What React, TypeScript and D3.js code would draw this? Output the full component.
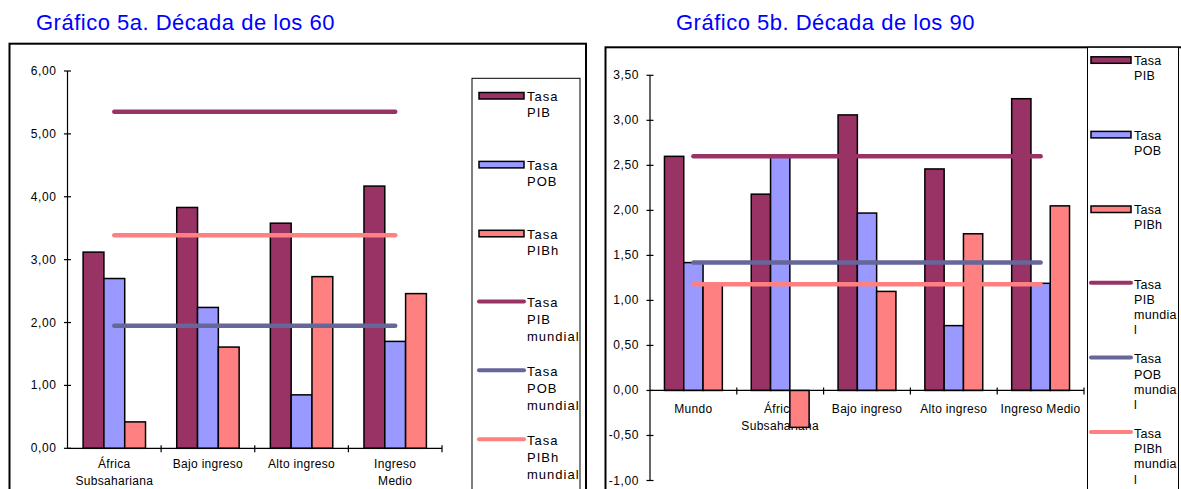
import React from 'react';
import * as d3 from 'd3';

// Década de los 60
const cats60 = ['África Subsahariana', 'Bajo ingreso', 'Alto ingreso', 'Ingreso Medio'];
const labels60 = [['África', 'Subsahariana'], ['Bajo ingreso'], ['Alto ingreso'], ['Ingreso', 'Medio']];
const pib60 = [3.12, 3.83, 3.58, 4.17];
const pob60 = [2.70, 2.24, 0.85, 1.70];
const pibh60 = [0.42, 1.61, 2.73, 2.46];
const world60 = [5.35, 1.95, 3.39]; // PIB, POB, PIBh mundial
const ticks60 = [0, 1, 2, 3, 4, 5, 6];

// Década de los 90
const cats90 = ['Mundo', 'África Subsahariana', 'Bajo ingreso', 'Alto ingreso', 'Ingreso Medio'];
const labels90 = [['Mundo'], ['África', 'Subsahariana'], ['Bajo ingreso'], ['Alto ingreso'], ['Ingreso Medio']];
const pib90 = [2.60, 2.18, 3.06, 2.46, 3.24];
const pob90 = [1.42, 2.59, 1.97, 0.72, 1.19];
const pibh90 = [1.18, -0.41, 1.10, 1.74, 2.05];
const world90 = [2.60, 1.42, 1.18];
const ticks90 = [-1, -0.5, 0, 0.5, 1, 1.5, 2, 2.5, 3, 3.5];

const legend60 = [['Tasa', 'PIB'], ['Tasa', 'POB'], ['Tasa', 'PIBh'], ['Tasa', 'PIB', 'mundial'], ['Tasa', 'POB', 'mundial'], ['Tasa', 'PIBh', 'mundial']];
const legend90 = [['Tasa', 'PIB'], ['Tasa', 'POB'], ['Tasa', 'PIBh'], ['Tasa', 'PIB', 'mundia', 'l'], ['Tasa', 'POB', 'mundia', 'l'], ['Tasa', 'PIBh', 'mundia', 'l']];

const barColors = ['#993366', '#9999FF', '#FF8080'];
const lineColors = ['#993366', '#666699', '#FF8080'];

const locale = d3.formatLocale({ decimal: ',', thousands: '.', grouping: [3], currency: ['', ''], minus: '-' });
const fmt = locale.format('.2f');
const FONT = '"Liberation Sans", Arial, sans-serif';

interface PanelProps {
  title: string;
  titleX: number;
  cats: string[];
  labels: string[][];
  values: number[][];
  world: number[];
  ticks: number[];
  yDomain: [number, number];
  yRange: [number, number];
  xRange: [number, number];
  frame: { x0: number; x1: number; y: number };
  legendBox: { x0: number; x1: number; y: number };
  legendItems: string[][];
  legendY0: number;
  legendStep: number;
  legendLine: number;
  legendFont: number;
  legendLs: number;
  legendSw: [number, number];
  labelY: number;
}

const Panel: React.FC<PanelProps> = (p) => {
  const y = d3.scaleLinear().domain(p.yDomain).range(p.yRange);
  const x = d3.scaleBand<string>().domain(p.cats).range(p.xRange);
  const step = x.bandwidth();
  const bw = step / 4.5; // gap width 150%
  const inner = d3.scaleBand<number>().domain([0, 1, 2]).range([bw * 0.75, step - bw * 0.75]);
  const axisX = p.xRange[0];
  const y0 = y(0);
  const line = d3.line<string>().x(c => (x(c) as number) + step / 2);

  return (
    <g fontFamily={FONT}>
      <text x={p.titleX} y={30} fontSize={22} letterSpacing={0.5} fill="#0000FF">{p.title}</text>
      <rect x={p.frame.x0} y={p.frame.y} width={p.frame.x1 - p.frame.x0} height={600} fill="#fff" stroke="#000" strokeWidth={2} />
      {/* category labels (under the bars) */}
      {p.cats.map((c, i) => (
        <text key={c} x={(x(c) as number) + step / 2} y={p.labelY} fontSize={12} letterSpacing={0.3} textAnchor="middle" fill="#000">
          {p.labels[i].map((t, j) => (
            <tspan key={j} x={(x(c) as number) + step / 2} dy={j === 0 ? 0 : 17}>{t}</tspan>
          ))}
        </text>
      ))}
      {/* y axis */}
      <line x1={axisX} x2={axisX} y1={y(p.yDomain[0])} y2={y(p.yDomain[1])} stroke="#000" strokeWidth={1.2} />
      {p.ticks.map(t => (
        <g key={t}>
          <line x1={axisX - 3.5} x2={axisX + 3.5} y1={y(t)} y2={y(t)} stroke="#000" strokeWidth={1.2} />
          <text x={axisX - 11} y={y(t) + 4} fontSize={12} letterSpacing={0.6} textAnchor="end" fill="#000">{fmt(t)}</text>
        </g>
      ))}
      {/* bars */}
      {p.values.map((vals, s) =>
        vals.map((v, i) => (
          <rect key={`${s}-${i}`}
            x={(x(p.cats[i]) as number) + (inner(s) as number)}
            y={Math.min(y(v), y0)}
            width={inner.bandwidth()}
            height={Math.abs(y(v) - y0)}
            fill={barColors[s]} stroke="#000" strokeWidth={1.5} />
        ))
      )}
      {/* x axis */}
      <line x1={p.xRange[0]} x2={p.xRange[1]} y1={y0} y2={y0} stroke="#000" strokeWidth={1.2} />
      {p.cats.map(c => (
        <line key={c} x1={(x(c) as number) + step} x2={(x(c) as number) + step} y1={y0 - 3} y2={y0 + 4} stroke="#000" strokeWidth={1.2} />
      ))}
      {/* world lines */}
      {p.world.map((w, s) => (
        <path key={s} d={line.y(() => y(w))(p.cats) as string} fill="none" stroke={lineColors[s]} strokeWidth={4.5} strokeLinecap="round" />
      ))}
      {/* legend */}
      <rect x={p.legendBox.x0} y={p.legendBox.y} width={p.legendBox.x1 - p.legendBox.x0} height={600} fill="#fff" stroke="#000" strokeWidth={1} />
      {p.legendItems.map((lines, i) => {
        const by = p.legendY0 + i * p.legendStep;
        const [sx0, sx1] = p.legendSw;
        return (
          <g key={i}>
            {i < 3 ? (
              <rect x={sx0} y={by - 8.2} width={sx1 - sx0} height={6.5} fill={barColors[i]} stroke="#000" strokeWidth={1.5} />
            ) : (
              <line x1={sx0} x2={sx1} y1={by - 6} y2={by - 6} stroke={lineColors[i - 3]} strokeWidth={4} strokeLinecap="round" />
            )}
            <text x={sx1 + 3} y={by} fontSize={p.legendFont} letterSpacing={p.legendLs} fill="#000">
              {lines.map((t, j) => (
                <tspan key={j} x={sx1 + 3} dy={j === 0 ? 0 : p.legendLine}>{t}</tspan>
              ))}
            </text>
          </g>
        );
      })}
    </g>
  );
};

export default function App() {
  return (
    <div style={{ position: 'absolute', left: 0, top: 0, width: 1181, height: 489, overflow: 'hidden', background: '#fff' }}>
      <svg width={1181} height={489}>
        <rect width={1181} height={489} fill="#fff" />
        <Panel
          title="Gráfico 5a. Década de los 60" titleX={36}
          cats={cats60} labels={labels60}
          values={[pib60, pob60, pibh60]} world={world60}
          ticks={ticks60} yDomain={[0, 6]} yRange={[448.3, 71]} xRange={[67.5, 442]}
          frame={{ x0: 9.5, x1: 586, y: 43.7 }}
          legendBox={{ x0: 472, x1: 580, y: 78.3 }} legendItems={legend60} legendY0={100.7} legendStep={68.9}
          legendLine={16.7} legendFont={13} legendLs={1} legendSw={[479, 524]} labelY={468.3}
        />
        <Panel
          title="Gráfico 5b. Década de los 90" titleX={676}
          cats={cats90} labels={labels90}
          values={[pib90, pob90, pibh90]} world={world90}
          ticks={ticks90} yDomain={[-1, 3.5]} yRange={[480.5, 75.3]} xRange={[650, 1084]}
          frame={{ x0: 605.5, x1: 1200, y: 47.3 }}
          legendBox={{ x0: 1087.5, x1: 1178.5, y: 47.3 }} legendItems={legend90} legendY0={65} legendStep={74.6}
          legendLine={15.2} legendFont={12.5} legendLs={0.3} legendSw={[1091, 1131]} labelY={413}
        />
      </svg>
    </div>
  );
}
